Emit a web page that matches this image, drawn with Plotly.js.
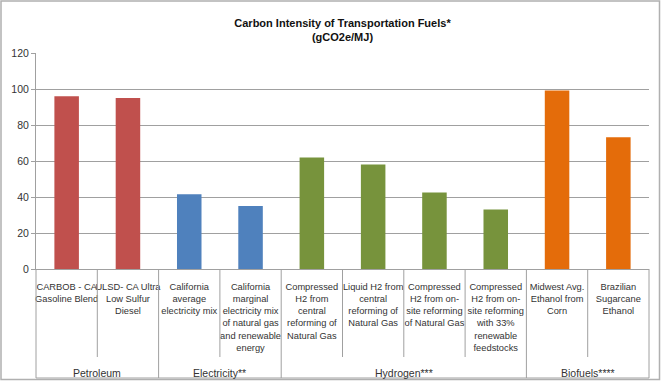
<!DOCTYPE html>
<html>
<head>
<meta charset="utf-8">
<script src="https://cdn.plot.ly/plotly-3.0.1.min.js"></script>
<style>html,body{margin:0;padding:0;background:#fff;}#chart{width:661px;height:381px;}</style>
</head>
<body>
<div id="chart"></div>
<script>
const categories = [
  "CARBOB - CA<br>Gasoline Blend",
  "ULSD- CA Ultra<br>Low Sulfur<br>Diesel",
  "California<br>average<br>electricity mix",
  "California<br>marginal<br>electricity mix<br>of natural gas<br>and renewable<br>energy",
  "Compressed<br>H2 from<br>central<br>reforming of<br>Natural Gas",
  "Liquid H2 from<br>central<br>reforming of<br>Natural Gas",
  "Compressed<br>H2 from on-<br>site reforming<br>of Natural Gas",
  "Compressed<br>H2 from on-<br>site reforming<br>with 33%<br>renewable<br>feedstocks",
  "Midwest Avg.<br>Ethanol from<br>Corn",
  "Brazilian<br>Sugarcane<br>Ethanol"
];
const values = [96, 95, 41.5, 35, 62, 58, 42.5, 33, 99.2, 73.2];
const groups = ["Petroleum","Petroleum","Electricity**","Electricity**","Hydrogen***","Hydrogen***","Hydrogen***","Hydrogen***","Biofuels****","Biofuels****"];
const groupNames = ["Petroleum","Electricity**","Hydrogen***","Biofuels****"];
const groupColors = ["#C0504D","#4F81BD","#77933C","#E46C0A"];
const yTicks = [0,20,40,60,80,100,120];

const W = 661, H = 381;
const M = {l:36, r:12, t:53, b:112};
const PW = W - M.l - M.r, PH = H - M.t - M.b;
const pxX = p => (p - M.l) / PW;
const pxY = p => (H - M.b - p) / PH;

const FONT = "Liberation Sans Narrow, Arial Narrow, Liberation Sans, Arial, sans-serif";
const TXT = "#333333";
const LINE = "#a0a0a0";

const barColors = groups.map(g => groupColors[groupNames.indexOf(g)]);

const shapes = [];
for (let i = 0; i < categories.length - 1; i++) {
  const isGroupEdge = groups[i] !== groups[i+1];
  shapes.push({type:'line', xref:'x', yref:'paper', x0:i+0.5, x1:i+0.5,
    y0:0, y1: isGroupEdge ? pxY(378) : pxY(357), line:{color:LINE, width:1}});
}
shapes.push({type:'line', xref:'paper', yref:'paper', x0:0, x1:0, y0:0, y1:pxY(378), line:{color:LINE,width:1}});
shapes.push({type:'line', xref:'paper', yref:'paper', x0:1, x1:1, y0:0, y1:pxY(378), line:{color:LINE,width:1}});
shapes.push({type:'line', xref:'paper', yref:'paper', x0:0, x1:1, y0:pxY(378), y1:pxY(378), line:{color:LINE,width:1}});
shapes.push({type:'rect', xref:'paper', yref:'paper', x0:pxX(1), x1:pxX(659.5), y0:pxY(379.5), y1:pxY(1), line:{color:'#b0b0b0',width:1.5}});

const annotations = groupNames.map(g => {
  const idx = groups.map((v,i)=>v===g?i:-1).filter(i=>i>=0);
  return {text:g, xref:'x', yref:'paper', x:(idx[0]+idx[idx.length-1])/2, y:pxY(373),
    showarrow:false, xanchor:'center', yanchor:'middle', font:{family:FONT, size:10.5, color:TXT}};
});

const trace = {type:'bar', x:categories, y:values, marker:{color:barColors}, hoverinfo:'none'};

const layout = {
  width:W, height:H, margin:M, paper_bgcolor:'#fff', plot_bgcolor:'#fff',
  showlegend:false, bargap:0.6,
  title:{text:'Carbon Intensity of Transportation Fuels*<br>(gCO2e/MJ)', xref:'paper', x:0.5,
    yref:'container', y:1-27/H, yanchor:'top', font:{family:FONT, size:11, weight:'bold', color:'#111'}},
  xaxis:{type:'category', showline:true, linecolor:LINE, linewidth:1, ticks:'outside', ticklen:9,
    tickcolor:'rgba(0,0,0,0)', tickfont:{family:FONT, size:9.3, color:TXT}, showgrid:false, fixedrange:true, tickangle:0},
  yaxis:{range:[0,120], tickvals:yTicks, ticks:'outside', ticklen:4, tickcolor:LINE, showline:true,
    linecolor:LINE, gridcolor:LINE, gridwidth:1, zeroline:false, tickfont:{family:FONT, size:10.5, color:TXT}, fixedrange:true},
  shapes:shapes, annotations:annotations
};
Plotly.newPlot('chart', [trace], layout, {staticPlot:true, displayModeBar:false});
</script>
</body>
</html>
